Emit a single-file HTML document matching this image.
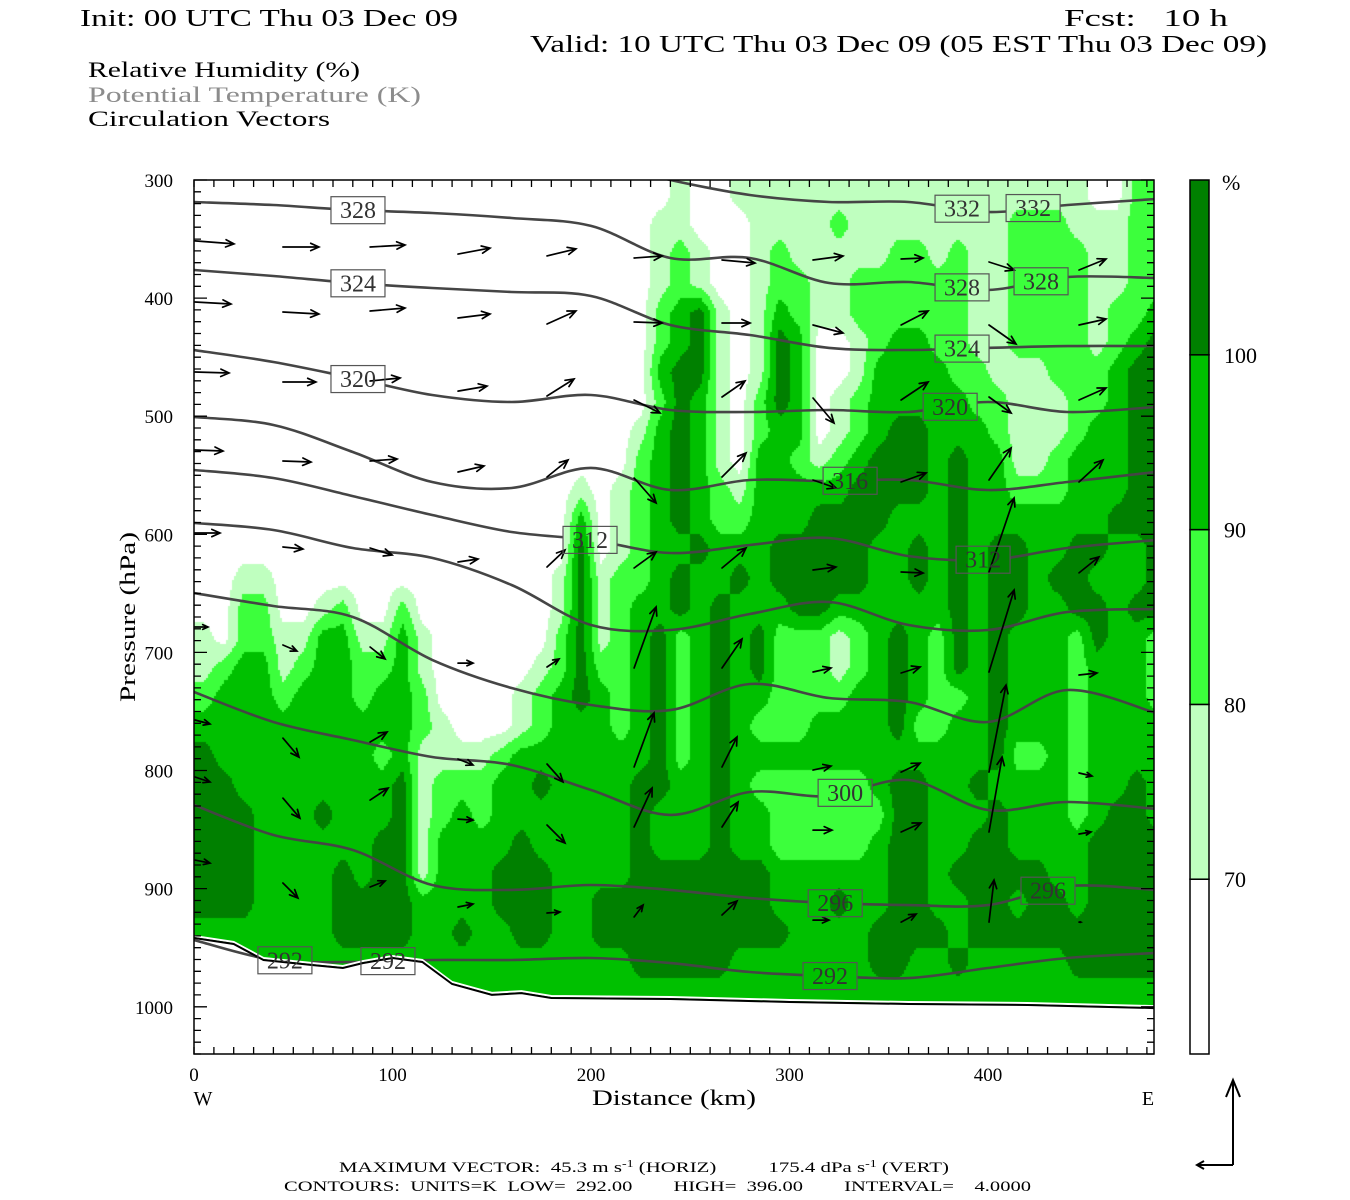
<!DOCTYPE html>
<html><head><meta charset="utf-8"><title>RH / Theta cross-section</title>
<style>
html,body{margin:0;padding:0;background:#fff;}
#wrap{position:relative;width:1350px;height:1200px;overflow:hidden;background:#fff;}
#rh-canvas{position:absolute;left:194px;top:180px;}
#chart{position:absolute;left:0;top:0;}
text{font-family:"Liberation Serif",serif;}
</style></head>
<body>
<div id="wrap">
<canvas id="rh-canvas" width="960" height="874"></canvas>
<svg id="chart" width="1350" height="1200" xmlns="http://www.w3.org/2000/svg">
  <defs>
    <clipPath id="plotclip"><rect x="194" y="180" width="960" height="874"/></clipPath>
    <mask id="lblmask" maskUnits="userSpaceOnUse" x="0" y="0" width="1350" height="1200"><rect x="0" y="0" width="1350" height="1200" fill="#fff"/><g id="maskholes"></g></mask>
  </defs>
  <text x="80" y="26" font-size="24" textLength="378" lengthAdjust="spacingAndGlyphs">Init: 00 UTC Thu 03 Dec 09</text>
  <text x="1064" y="26" font-size="24" textLength="164" lengthAdjust="spacingAndGlyphs" xml:space="preserve">Fcst:   10 h</text>
  <text x="530" y="52" font-size="24" textLength="737" lengthAdjust="spacingAndGlyphs">Valid: 10 UTC Thu 03 Dec 09 (05 EST Thu 03 Dec 09)</text>
  <text x="88" y="77" font-size="22" textLength="272" lengthAdjust="spacingAndGlyphs">Relative Humidity (%)</text>
  <text x="88" y="102" font-size="22" fill="#8c8c8c" textLength="333" lengthAdjust="spacingAndGlyphs">Potential Temperature (K)</text>
  <text x="88" y="126" font-size="22" textLength="242" lengthAdjust="spacingAndGlyphs">Circulation Vectors</text>

  <g id="plot" clip-path="url(#plotclip)">
    <path id="below-ground" fill="#fff"/>
    <g id="contours" mask="url(#lblmask)" fill="none" stroke="#454545" stroke-width="2.6"></g>
    <path id="ground-white" fill="none" stroke="#fff" stroke-width="2"/>
    <path id="ground-line" fill="none" stroke="#000" stroke-width="2"/>
    <g id="vectors" stroke="#000" fill="none" stroke-width="1.7" stroke-linecap="round"></g>
    <g id="labels"></g>
  </g>
  <rect x="194" y="180" width="960" height="874" fill="none" stroke="#000" stroke-width="1.5"/>
  <g id="ticks" stroke="#000" stroke-width="1.3"></g>
  <g id="ylabels" font-size="19" text-anchor="end"></g>
  <g id="xlabels" font-size="19" text-anchor="middle"></g>
  <text x="0" y="0" font-size="22" text-anchor="middle" transform="translate(135,617) rotate(-90)" textLength="170" lengthAdjust="spacingAndGlyphs">Pressure (hPa)</text>
  <text x="674" y="1105" font-size="22" text-anchor="middle" textLength="164" lengthAdjust="spacingAndGlyphs">Distance (km)</text>
  <text x="203" y="1105" font-size="20" text-anchor="middle">W</text>
  <text x="1148" y="1105" font-size="20" text-anchor="middle">E</text>

  <g id="colorbar"></g>
  <g id="cblabels" font-size="22"></g>
  <text x="1222" y="190" font-size="22">%</text>

  <g stroke="#000" stroke-width="2" fill="none">
    <path d="M1233,1165 L1233,1080 M1226,1097 L1233,1080 L1240,1097"/>
    <path d="M1233,1165 L1197,1165 M1204,1161 L1197,1165 L1204,1169"/>
  </g>
  <text x="339" y="1172" font-size="15" textLength="610" lengthAdjust="spacingAndGlyphs" xml:space="preserve">MAXIMUM VECTOR:  45.3 m s<tspan baseline-shift="super" font-size="10">-1</tspan> (HORIZ)          175.4 dPa s<tspan baseline-shift="super" font-size="10">-1</tspan> (VERT)</text>
  <text x="284" y="1191" font-size="15" textLength="747" lengthAdjust="spacingAndGlyphs" xml:space="preserve">CONTOURS:  UNITS=K  LOW=  292.00        HIGH=  396.00        INTERVAL=    4.0000</text>
</svg>
</div>
<script>
// ---------- data ----------
const rhColors = ['#ffffff','#bfffbf','#3cff3c','#00c000','#008000'];
const rhBarLevels = [70, 80, 90, 100];
// RH category grid: rows every 25 hPa from 300, columns every 10 km from 0 (0:<70,1:70-80,2:80-90,3:90-100,4:>100)
const rhRows = [
"0000000000"+"0000000000"+"0000100111"+"1111111111"+"111110022",
"0000000000"+"0000000000"+"0001100011"+"1121111111"+"122211122",
"0000000000"+"0000000000"+"0001210012"+"1111122121"+"122221122",
"0000000000"+"0000000000"+"0001210012"+"2112222221"+"122221122",
"0000000000"+"0000000000"+"0002341013"+"2112222221"+"122221223",
"0000000000"+"0000000000"+"0002341014"+"3001233221"+"122221234",
"0000000000"+"0000000000"+"0003441014"+"3001333322"+"111222344",
"0000000000"+"0000000000"+"0002431024"+"3012333332"+"211122344",
"0000000000"+"0000000000"+"0013431023"+"3012344333"+"211123344",
"0000000000"+"0000000000"+"0023431033"+"2123444343"+"311233344",
"0000000000"+"0000000001"+"0123432133"+"3334444343"+"322233344",
"0000000000"+"0000000003"+"0123432233"+"3444433343"+"333333444",
"0000000000"+"0000000004"+"0123343334"+"4444334343"+"443344334",
"0011000000"+"0000000014"+"1223433434"+"4444334343"+"443443334",
"0022001200"+"2000000014"+"1233434333"+"4433333343"+"443344344",
"1022113311"+"3100000024"+"1234234342"+"2212343243"+"433324332",
"1233123322"+"3100000124"+"2234234342"+"2212343243"+"433323332",
"2333233323"+"3200001234"+"3234234332"+"2223343223"+"433323332",
"3333333333"+"3210001233"+"3234234322"+"2333342233"+"433323333",
"4333333332"+"3111123333"+"3334234333"+"3333333333"+"422323333",
"4433333333"+"4122233433"+"3344334322"+"2222344334"+"333323343",
"4443334333"+"4123233333"+"3343334332"+"2222244333"+"433323443",
"4443333334"+"4133334333"+"3343334332"+"2222344334"+"433334444",
"4443333434"+"4133344433"+"3344444443"+"3333344344"+"444334444",
"4443333444"+"4333344433"+"4444444443"+"3343344334"+"434434444",
"3333333444"+"4334334433"+"4444444444"+"3333444434"+"444444444",
"3333333333"+"3333333333"+"3344444333"+"3333443343"+"333344444",
"3333333333"+"3333333333"+"3333333333"+"3333333333"+"333333333",
"3333333333"+"3333333333"+"3333333333"+"3333333333"+"333333333"
];
const thetaKm = [0,40,80,120,160,200,240,280,320,360,400,440,480];
const thetaLevels = [332,328,324,320,316,312,308,304,300,296,292];
const theta332 = [null,null,null,null,null,null,300,312.7,318.6,318.6,327.1,321.2,316.1];
const theta328 = [318.6,321.2,325.4,327.9,332.2,338.9,366,366,387.2,386.4,393.1,382.1,383];
const theta324 = [376.2,381.3,387.2,391.4,394.8,398.2,422.8,431.2,442.2,443.9,442.2,440.6,440.6];
const theta320 = [443.9,454.1,467.6,482,488,482,494.7,496.4,494.7,496.4,488,496.4,492.2];
const theta316 = [500.7,507.4,530.3,555.7,560.8,543.8,562.5,554,554.9,554,562.5,555.7,547.2];
const theta312 = [545.5,552.3,567.6,583.6,598,604.8,615.8,609,603.1,618.4,621.7,611.6,604.8];
const theta308 = [590.4,596.3,611.6,620,642.9,676.8,681,667.5,657.3,676.8,681,665.8,663.2];
const theta304 = [649.7,660.7,670,706.3,730.1,744.5,748.8,726.7,738.6,742,758.9,731.8,751.3];
const theta300 = [733.5,758.9,774.1,788.5,795.3,816.5,837.6,818.2,821.6,808,833.4,826.6,832.5];
const theta296 = [829.2,854.6,867.3,896.9,901.1,896.9,901.1,907.9,912.2,913.9,913.9,897.8,901.1];
const theta292 = [943.5,960.4,962.1,960.4,960.4,958.7,963,970.6,974,975.7,967.2,958.7,954.5];
const groundKm = [0,20,35,60,75,85,100,115,130,150,165,180,240,300,360,420,484];
const groundP = [941.8,946.9,960.4,964.7,967.2,963,958.7,962.1,980.7,990,988.4,992.6,993.4,996,997.7,998.5,1001.1];
const labelLevel = [328,324,320,312,332,332,328,328,324,320,316,312,300,296,296,292,292,292];
const labelKm = [82.6,82.6,82.6,199.5,386.9,422.7,386.9,426.7,386.9,380.9,330.5,397.5,328,323,430.2,320.4,45.8,97.7];
const vecKm = [0.5,44.8,88.7,133,177.8,221.7,266,311.8,356.2,400.5,445.8];
const vecP = [
351.6,356.7,356.7,362.7,364.3,366,367.7,367.7,366.9,369.4,376.2,
403.3,411.8,410.9,416.8,421.9,420.2,421.1,422.8,422.8,422.8,422.8,
462.6,471,470.2,478.7,482.9,486.3,483.7,484.6,486.3,483.7,486.3,
528.6,537.9,537.9,547.2,551.5,552.3,551.5,554,555.7,554,555.7,
598.9,610.7,611.6,623.4,627.7,628.5,628.5,630.2,631.9,631.9,632.7,
678.5,693.7,695.4,709,712.3,713.2,713.2,716.6,717.4,716.6,719.1,
757.2,772.5,775.8,790.2,794.5,797,797,799.6,801.3,801.3,802.1,
805.5,823.3,825,841.1,846.1,847.8,847.8,850.4,852,852,853.7,
875.8,895.2,898.6,915.5,920.6,924,922.3,926.6,928.3,928.3,928.3];
const vecU = [
26,24,23.3,21.3,19.3,18.7,22,20,14.7,16.7,18,
24,24,23.3,21.3,19.3,18.7,18.7,20,18,18,18,
22.7,22,20,19.3,18,17.3,15.3,14,18,14.7,18,
18.7,18.7,18,17.3,14,14.7,16,15.3,16.7,14.7,16,
16.7,13.3,14.7,13.3,12,14.7,16,15.3,14.7,16.7,13.3,
8.7,9.3,10,10,8,14.7,13.3,12,12.7,16.7,12,
10,10.7,11.3,10,10.7,13.3,10,12,12.7,11.3,8.7,
10,11.3,12,10,12,12,10.7,12.7,13.3,8.7,8,
10,10,10,10,8.7,6,10,10.7,10,3.3,1.3];
const vecW = [
6,0,-4,-12,-14,-4,6,-8,-2,16,-22,
4,4,-6,-8,-26,2,0,16,-28,38,-12,
2,0,-6,-10,-34,26,-32,50,-36,32,-24,
2,2,-4,-12,-34,50,-48,16,-18,-64,-44,
0,4,14,-6,-34,-32,-40,-6,2,-148,-32,
0,12,24,0,-16,-122,-58,-8,-12,-164,-4,
8,38,-20,12,36,-108,-60,-8,-18,-174,6,
10,40,-24,2,36,-78,-50,0,-18,-150,-4,
6,30,-12,-6,-2,-24,-28,0,-16,-84,0];
const yTicks = [300,400,500,600,700,800,900,1000];
const xTicks = [0,100,200,300,400];

// ---------- axes ----------
const X0=194, X1=1154, Y0=180, Y1=1054, KMMAX=483.6, P0=300, P1=1040;
const xOf = km => X0 + km*(X1-X0)/KMMAX;
const yOf = p => Y0 + (p-P0)*(Y1-Y0)/(P1-P0);
const NS='http://www.w3.org/2000/svg';
function mk(tag, attrs, parent){const e=document.createElementNS(NS,tag);for(const k in attrs)e.setAttribute(k,attrs[k]);if(parent)parent.appendChild(e);return e;}

// ---------- RH fill ----------
(function(){
  const cv=document.getElementById('rh-canvas'), ctx=cv.getContext('2d');
  const nr=rhRows.length, nc=rhRows[0].length;
  const g=(r,c)=>+rhRows[Math.max(0,Math.min(nr-1,r))][Math.max(0,Math.min(nc-1,c))];
  const step=2;
  for(let py=0;py<874;py+=step){
    const p=P0+(py+1)*(P1-P0)/(Y1-Y0);
    const r=(p-300)/25-0.5, r0=Math.floor(r), fr=r-r0;
    for(let px=0;px<960;px+=step){
      const km=(px+1)*KMMAX/(X1-X0);
      const c=km/10-0.5, c0=Math.floor(c), fc=c-c0;
      const v=(g(r0,c0)*(1-fc)+g(r0,c0+1)*fc)*(1-fr)+(g(r0+1,c0)*(1-fc)+g(r0+1,c0+1)*fc)*fr;
      const k=Math.max(0,Math.min(4,Math.round(v)));
      if(k===0)continue;
      ctx.fillStyle=rhColors[k];
      ctx.fillRect(px,py,step,step);
    }
  }
})();

// ---------- helpers ----------
function smoothPath(pts){
  if(pts.length<2)return '';
  let d='M'+pts[0][0].toFixed(1)+','+pts[0][1].toFixed(1);
  for(let i=0;i<pts.length-1;i++){
    const p0=pts[Math.max(0,i-1)],p1=pts[i],p2=pts[i+1],p3=pts[Math.min(pts.length-1,i+2)];
    const c1=[p1[0]+(p2[0]-p0[0])/6,p1[1]+(p2[1]-p0[1])/6];
    const c2=[p2[0]-(p3[0]-p1[0])/6,p2[1]-(p3[1]-p1[1])/6];
    d+=' C'+c1[0].toFixed(1)+','+c1[1].toFixed(1)+' '+c2[0].toFixed(1)+','+c2[1].toFixed(1)+' '+p2[0].toFixed(1)+','+p2[1].toFixed(1);
  }
  return d;
}
function interp(xs,ys,x){
  for(let i=0;i<xs.length-1;i++){
    if(ys[i]==null||ys[i+1]==null)continue;
    if(x>=xs[i]&&x<=xs[i+1]){const t=(x-xs[i])/(xs[i+1]-xs[i]);return ys[i]+t*(ys[i+1]-ys[i]);}
  }
  return null;
}

// ---------- ground ----------
(function(){
  const pts=groundKm.map((k,i)=>[xOf(k),yOf(groundP[i])]);
  let d='M'+pts.map(p=>p[0].toFixed(1)+','+p[1].toFixed(1)).join(' L');
  document.getElementById('ground-line').setAttribute('d',d);
  const dw='M'+pts.map(p=>p[0].toFixed(1)+','+(p[1]-2).toFixed(1)).join(' L');
  document.getElementById('ground-white').setAttribute('d',dw);
  document.getElementById('below-ground').setAttribute('d',d+' L1160,1060 L190,1060 Z');
})();

// ---------- theta contours ----------
const thetaSeries = [theta332,theta328,theta324,theta320,theta316,theta312,theta308,theta304,theta300,theta296,theta292];
(function(){
  const grp=document.getElementById('contours');
  thetaSeries.forEach((vals,li)=>{
    const pts=[];
    vals.forEach((p,i)=>{ if(p!=null) pts.push([xOf(thetaKm[i]),yOf(p)]); });
    if(vals[0]===null && pts.length){ pts.unshift([pts[0][0]-6,pts[0][1]-4]); }
    pts[pts.length-1]=[xOf(KMMAX)+2,pts[pts.length-1][1]];
    const el=mk('path',{d:smoothPath(pts)},grp);
    
    
  });
})();

// ---------- contour labels ----------
(function(){
  const grp=document.getElementById('labels'), holes=document.getElementById('maskholes');
  labelLevel.forEach((lev,i)=>{
    const vals=thetaSeries[thetaLevels.indexOf(lev)];
    const p=interp(thetaKm,vals,labelKm[i]); if(p==null)return;
    const cx=xOf(labelKm[i]), cy=yOf(p), w=54, h=27;
    mk('rect',{x:cx-w/2,y:cy-h/2,width:w,height:h,fill:'#000'},holes);
    const r=mk('rect',{x:cx-w/2,y:cy-h/2,width:w,height:h,fill:'none',stroke:'#555','stroke-width':1.2},grp);
    
    
    const t=mk('text',{x:cx,y:cy+8,'font-size':24,'text-anchor':'middle',fill:'#333',style:'font-family:"Liberation Serif",serif'},grp);
    t.textContent=String(lev);
    
    
  });
})();

// ---------- vectors ----------
(function(){
  const grp=document.getElementById('vectors');
  const nCol=vecKm.length;
  vecP.forEach((p,i)=>{
    const km=vecKm[i%nCol];
    const x0=xOf(km), y0=yOf(p);
    const dx=vecU[i]*1.5, dy=vecW[i]*0.5;
    const x1=x0+dx, y1=y0+dy;
    const L=Math.hypot(dx,dy); if(L<1)return;
    const ux=dx/L, uy=dy/L, hl=Math.min(9,L*0.45), a=0.42;
    const hx1=x1-hl*(ux*Math.cos(a)-uy*Math.sin(a)), hy1=y1-hl*(uy*Math.cos(a)+ux*Math.sin(a));
    const hx2=x1-hl*(ux*Math.cos(a)+uy*Math.sin(a)), hy2=y1-hl*(uy*Math.cos(a)-ux*Math.sin(a));
    const el=mk('path',{d:`M${x0.toFixed(1)},${y0.toFixed(1)} L${x1.toFixed(1)},${y1.toFixed(1)} M${hx1.toFixed(1)},${hy1.toFixed(1)} L${x1.toFixed(1)},${y1.toFixed(1)} L${hx2.toFixed(1)},${hy2.toFixed(1)}`},grp);
    
    
  });
})();

// ---------- ticks & labels ----------
(function(){
  const tg=document.getElementById('ticks');
  let d='';
  for(let p=300;p<=1040;p+=10){
    const y=yOf(p).toFixed(1), L=(p%100===0)?13:7;
    d+=`M${X0},${y} L${X0+L},${y} M${X1},${y} L${X1-L},${y} `;
  }
  for(let km=0;km<=KMMAX;km+=10){
    const x=xOf(km).toFixed(1);
    d+=`M${x},${Y0} L${x},${Y0+7} M${x},${Y1} L${x},${Y1-7} `;
  }
  const el=mk('path',{d:d,fill:'none'},tg);
  
  
  const yl=document.getElementById('ylabels');
  yTicks.forEach(p=>{
    const t=mk('text',{x:173,y:yOf(p)+7},yl); t.textContent=String(p);
    
    
  });
  const xl=document.getElementById('xlabels');
  xTicks.forEach(k=>{
    const t=mk('text',{x:xOf(k),y:1081},xl); t.textContent=String(k);
    
    
  });
})();

// ---------- colorbar ----------
(function(){
  const cb=document.getElementById('colorbar'), cl=document.getElementById('cblabels');
  const top=180, bot=1054, n=rhColors.length, h=(bot-top)/n;
  for(let k=0;k<n;k++){
    const y=bot-(k+1)*h;
    const r=mk('rect',{x:1190,y:y,width:19,height:h,fill:rhColors[k],stroke:'#000','stroke-width':1.5},cb);
    
    
  }
  rhBarLevels.forEach((lev,i)=>{
    const y=bot-(i+1)*h;
    const t=mk('text',{x:1224,y:y+8},cl); t.textContent=String(lev);
    
    
  });
})();
</script>
</body></html>
